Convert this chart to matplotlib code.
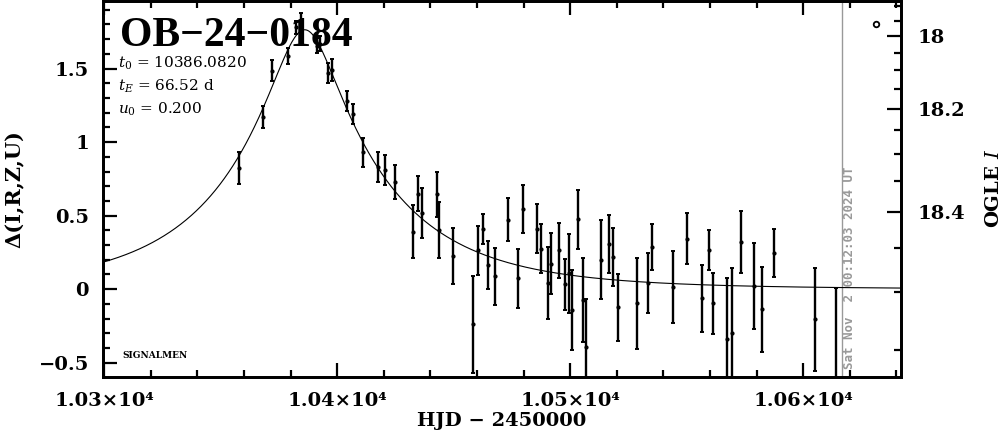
import numpy as np
import matplotlib
matplotlib.use("Agg")
import matplotlib.pyplot as plt
from matplotlib.ticker import MultipleLocator, FixedLocator, FuncFormatter

plt.rcParams['font.family'] = ['DejaVu Serif']
plt.rcParams['mathtext.fontset'] = 'dejavuserif'

# ---------------- data ----------------
event_name = "OB\u221224\u22120184"
t0 = 10386.0820
tE = 66.52
u0 = 0.200
now_hjd = 10616.5
now_text = "Sat Nov  2 00:12:03 2024 UT"

hjd = [10357.9, 10368.2, 10372.0, 10379.0, 10382.4, 10384.5, 10391.3, 10392.7,
       10396.0, 10397.9, 10404.2, 10406.7, 10410.9, 10417.7, 10420.7, 10424.9,
       10432.7, 10434.9, 10436.6, 10442.8, 10443.9, 10449.7, 10458.5, 10460.6,
       10462.8, 10464.7, 10467.9, 10473.5, 10477.6, 10479.7, 10485.7, 10487.6,
       10490.3, 10491.7, 10495.4, 10497.6, 10499.3, 10500.7, 10503.4, 10505.5,
       10506.7, 10513.4, 10516.7, 10518.5, 10520.7, 10528.6, 10533.3, 10535.3,
       10544.3, 10550.3, 10556.5, 10559.4, 10561.5, 10567.3, 10569.4, 10573.4,
       10579.1, 10582.3, 10587.3, 10605.2, 10614.0]
delta = [0.823, 1.17, 1.486, 1.587, 1.78, 1.81, 1.655, 1.67,
         1.47, 1.49, 1.28, 1.19, 0.93, 0.83, 0.81, 0.728,
         0.39, 0.65, 0.515, 0.645, 0.40, 0.226, -0.24, 0.265,
         0.41, 0.163, 0.088, 0.473, 0.073, 0.547, 0.41, 0.276,
         0.043, 0.174, 0.265, 0.032, 0.107, -0.142, 0.475, -0.075,
         -0.39, 0.20, 0.305, 0.22, -0.124, -0.097, 0.045, 0.287,
         0.012, 0.344, -0.063, 0.265, -0.097, -0.341, -0.296, 0.321,
         0.022, -0.138, 0.246, -0.206, -0.62]
err = [0.11, 0.075, 0.07, 0.055, 0.045, 0.07, 0.05, 0.05,
       0.07, 0.075, 0.07, 0.07, 0.10, 0.10, 0.10, 0.115,
       0.18, 0.12, 0.17, 0.155, 0.19, 0.19, 0.33, 0.166,
       0.10, 0.165, 0.195, 0.147, 0.20, 0.163, 0.167, 0.167,
       0.245, 0.21, 0.187, 0.173, 0.27, 0.27, 0.20, 0.287,
       0.32, 0.27, 0.197, 0.197, 0.23, 0.31, 0.204, 0.158,
       0.245, 0.174, 0.226, 0.136, 0.21, 0.42, 0.44, 0.21,
       0.29, 0.29, 0.163, 0.35, 0.63]

x_ticks = [10300, 10400, 10500, 10600]
y_ticks = [-0.5, 0, 0.5, 1, 1.5]
ogle_major = [18.0, 18.2, 18.4]
ogle_minor = [17.9, 17.95, 18.05, 18.1, 18.15, 18.25, 18.3, 18.35, 18.45, 18.5, 18.55]

# right-axis magnitude mapping (baseline mag and blend fraction)
I_base = 18.497
f_blend = 0.85

xlim = (10299.5, 10642.0)
ylim = (-0.597, 1.96)

# ---------------- figure ----------------
fig = plt.figure(figsize=(10.04, 4.34), dpi=100)
ax = fig.add_axes([0.1026, 0.1313, 0.7948, 0.8667])

# PSPL model curve from the displayed parameters
tm = np.linspace(xlim[0], xlim[1], 1500)
u = np.sqrt(u0**2 + ((tm - t0) / tE) ** 2)
A = (u**2 + 2) / (u * np.sqrt(u**2 + 4))
ax.plot(tm, 2.5 * np.log10(A), color='black', lw=0.8, zorder=2)

ax.errorbar(hjd, delta, yerr=err, fmt='o', ms=2, color='black', ecolor='black',
            elinewidth=1.7, capsize=1.2, capthick=1.4, zorder=3)

ax.axvline(now_hjd, color='#999999', lw=1.0, zorder=1)

ax.set_xlim(*xlim)
ax.set_ylim(*ylim)

ax.xaxis.set_major_locator(FixedLocator(x_ticks))
ax.xaxis.set_minor_locator(MultipleLocator(20))
ax.xaxis.set_major_formatter(FuncFormatter(lambda v, p: f"{v/1e4:.2f}\u00d710\u2074"))
ax.yaxis.set_major_locator(FixedLocator(y_ticks))
ax.yaxis.set_minor_locator(MultipleLocator(0.1))
ax.yaxis.set_major_formatter(FuncFormatter(lambda v, p: f"{v:g}".replace('-', '\u2212')))

ax.tick_params(which='both', direction='in', top=True, right=False, width=1.6)
ax.tick_params(which='major', length=10)
ax.tick_params(which='minor', length=5)
ax.tick_params(axis='y', which='major', labelsize=14, pad=10)
ax.tick_params(axis='x', which='major', labelsize=14, pad=11)
for lab in ax.get_xticklabels() + ax.get_yticklabels():
    lab.set_fontweight('bold')

for sp in ax.spines.values():
    sp.set_linewidth(2)

ax.set_xlabel("HJD \u2212 2450000", fontsize=14, fontweight='bold', labelpad=1)
ax.set_ylabel("\u0394(I,R,Z,U)", fontsize=15, fontweight='bold', labelpad=10)

# right axis: OGLE I
def mag_to_delta(I):
    I = np.asarray(I, dtype=float)
    return 2.5 * np.log10((10 ** (-0.4 * (I - I_base)) - f_blend) / (1 - f_blend))

ax2 = ax.twinx()
ax2.set_ylim(*ylim)
ax2.yaxis.set_major_locator(FixedLocator(mag_to_delta(ogle_major)))
ax2.yaxis.set_minor_locator(FixedLocator(mag_to_delta(ogle_minor)))
ax2.set_yticklabels([f"{m:g}" for m in ogle_major])
ax2.tick_params(which='both', direction='in', width=1.6)
ax2.tick_params(which='major', length=10, labelsize=14, pad=12)
ax2.tick_params(which='minor', length=5)
for lab in ax2.get_yticklabels():
    lab.set_fontweight('bold')
for sp in ax2.spines.values():
    sp.set_linewidth(2)
ax2.set_ylabel("OGLE $\\mathbf{\\mathit{I}}$", fontsize=14, fontweight='bold', labelpad=14)

# texts
ax.text(0.0213, 0.880, event_name, transform=ax.transAxes, fontsize=30,
        fontweight='bold', family='Liberation Serif', va='baseline', ha='left')
ax.text(0.019, 0.834, f"$t_0$ = {t0:.4f}", transform=ax.transAxes, fontsize=11,
        va='center', ha='left')
ax.text(0.019, 0.773, f"$t_E$ = {tE:.2f} d", transform=ax.transAxes, fontsize=11,
        va='center', ha='left')
ax.text(0.019, 0.712, f"$u_0$ = {u0:.3f}", transform=ax.transAxes, fontsize=11,
        va='center', ha='left')
ax.text(0.024, 0.058, "SIGNALMEN", transform=ax.transAxes, fontsize=6.5,
        fontweight='bold', va='center', ha='left')
ax.text(0.935, 0.02, now_text, transform=ax.transAxes, rotation=90,
        fontsize=9, fontweight='bold', family='DejaVu Sans Mono', color='#999999',
        ha='center', va='bottom')
ax.plot([0.969], [0.939], marker='o', ms=4, mfc='none', mec='black', mew=1.3,
        transform=ax.transAxes, clip_on=False)

fig.savefig("out.png", dpi=100)
